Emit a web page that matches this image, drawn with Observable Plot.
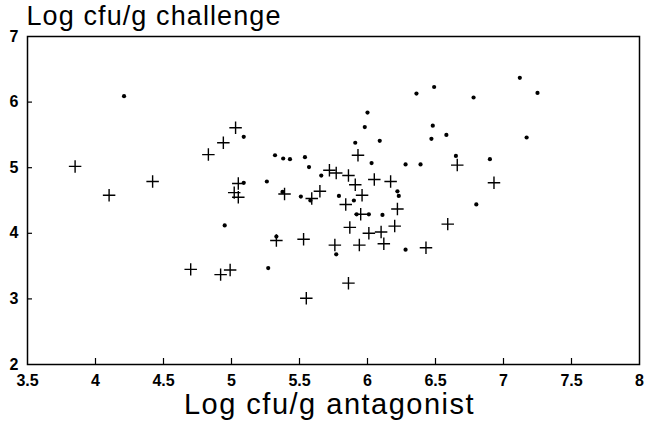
<!DOCTYPE html>
<html><head><meta charset="utf-8">
<script src="https://cdn.jsdelivr.net/npm/d3@7"></script>
<script src="https://cdn.jsdelivr.net/npm/@observablehq/plot@0.6"></script>
<style>body{margin:0;background:#fff}</style>
</head><body><div id="chart"></div>
<script>
// Crosses (+): Log cfu/g antagonist vs Log cfu/g challenge
const plusX = [3.85, 4.10, 4.42, 4.70, 4.83, 4.92, 4.94, 4.99, 5.02, 5.05, 5.03, 5.05, 5.33, 5.39, 5.53, 5.55, 5.59, 5.65, 5.72, 5.76, 5.77, 5.84, 5.86, 5.86, 5.87, 5.91, 5.93, 5.94, 5.95, 5.96, 6.01, 6.05, 6.10, 6.12, 6.17, 6.20, 6.22, 6.43, 6.59, 6.66, 6.93];
const plusY = [5.02, 4.58, 4.79, 3.45, 5.20, 3.37, 5.38, 3.44, 4.62, 4.55, 5.61, 4.76, 3.89, 4.60, 3.91, 3.01, 4.53, 4.64, 4.96, 3.82, 4.92, 4.44, 3.24, 4.88, 4.09, 4.74, 5.19, 3.82, 4.29, 4.58, 4.00, 4.82, 4.02, 3.84, 4.79, 4.11, 4.37, 3.78, 4.14, 5.04, 4.77];
// Dots (•)
const dotX = [4.21, 4.95, 5.09, 5.09, 5.26, 5.27, 5.32, 5.33, 5.38, 5.375, 5.43, 5.51, 5.54, 5.57, 5.58, 5.66, 5.77, 5.79, 5.90, 5.91, 5.92, 5.98, 6.00, 6.01, 6.03, 6.09, 6.11, 6.22, 6.23, 6.28, 6.28, 6.36, 6.39, 6.47, 6.48, 6.49, 6.58, 6.65, 6.78, 6.80, 6.90, 7.12, 7.17, 7.25];
const dotY = [6.09, 4.12, 5.47, 4.77, 4.79, 3.47, 5.19, 3.95, 5.14, 4.63, 5.13, 4.56, 5.16, 5.01, 4.50, 4.88, 3.68, 4.57, 4.50, 5.38, 4.29, 5.62, 5.84, 4.29, 5.07, 5.41, 4.28, 4.64, 4.57, 3.75, 5.05, 6.13, 5.05, 5.44, 5.64, 6.23, 5.50, 5.18, 6.07, 4.44, 5.13, 6.37, 5.46, 6.14];

const xTicks = [3.5, 4, 4.5, 5, 5.5, 6, 6.5, 7, 7.5, 8];
const xTickLabels = ["3.5", "4", "4.5", "5", "5.5", "6", "6.5", "7", "7.5", "8"];
const yTicks = [2, 3, 4, 5, 6, 7];
const yTickLabels = ["2", "3", "4", "5", "6", "7"];
const titleText = "Log cfu/g challenge";
const xTitleText = "Log cfu/g antagonist";

const plus = plusX.map((x, i) => ({x, y: plusY[i]}));
const dots = dotX.map((x, i) => ({x, y: dotY[i]}));
const innerX = xTicks.slice(1, -1);
const innerY = yTicks.slice(1, -1);

const W = 645, H = 425, ML = 27, MR = 6, MT = 36, MB = 61;
const frameW = W - ML - MR, frameH = H - MT - MB;

const chart = Plot.plot({
  width: W, height: H,
  marginLeft: ML, marginRight: MR, marginTop: MT, marginBottom: MB,
  style: {fontFamily: "'Liberation Sans', Arial, Helvetica, sans-serif", background: "white", color: "black"},
  x: {domain: [3.5, 8]},
  y: {domain: [2, 7]},
  marks: [
    Plot.tickX(innerX, {x: d => d, insetTop: frameH - 6, stroke: "black", strokeWidth: 1.2}),
    Plot.tickY(innerY, {y: d => d, insetRight: frameW - 5, stroke: "black", strokeWidth: 1.2}),
    Plot.frame({stroke: "black", strokeWidth: 1.5}),
    Plot.axisX(xTicks, {tickSize: 0, tickPadding: 10, tickFormat: d => xTickLabels[xTicks.indexOf(d)], fontSize: 16, fontWeight: "bold", label: null}),
    Plot.axisY(yTicks, {tickSize: 0, tickPadding: 9, tickFormat: d => yTickLabels[yTicks.indexOf(d)], fontSize: 16, fontWeight: "bold", label: null}),
    Plot.dot(plus, {x: "x", y: "y", symbol: "plus", r: 4.1, stroke: "black", strokeWidth: 1.4}),
    Plot.dot(dots, {x: "x", y: "y", r: 2.1, fill: "black", stroke: null}),
    Plot.text([titleText], {frameAnchor: "top-left", text: d => d, textAnchor: "start", lineAnchor: "bottom", dx: -1, dy: -12, fontSize: 27}),
    Plot.text([xTitleText], {frameAnchor: "bottom", text: d => d, lineAnchor: "bottom", dx: -4, dy: 49, fontSize: 29})
  ]
});
d3.select(chart).selectAll("text").filter(function () { return this.textContent === titleText; }).attr("letter-spacing", "1.1px");
d3.select(chart).selectAll("text").filter(function () { return this.textContent === xTitleText; }).attr("letter-spacing", "1.5px");
document.getElementById("chart").appendChild(chart);
</script>
</body></html>
